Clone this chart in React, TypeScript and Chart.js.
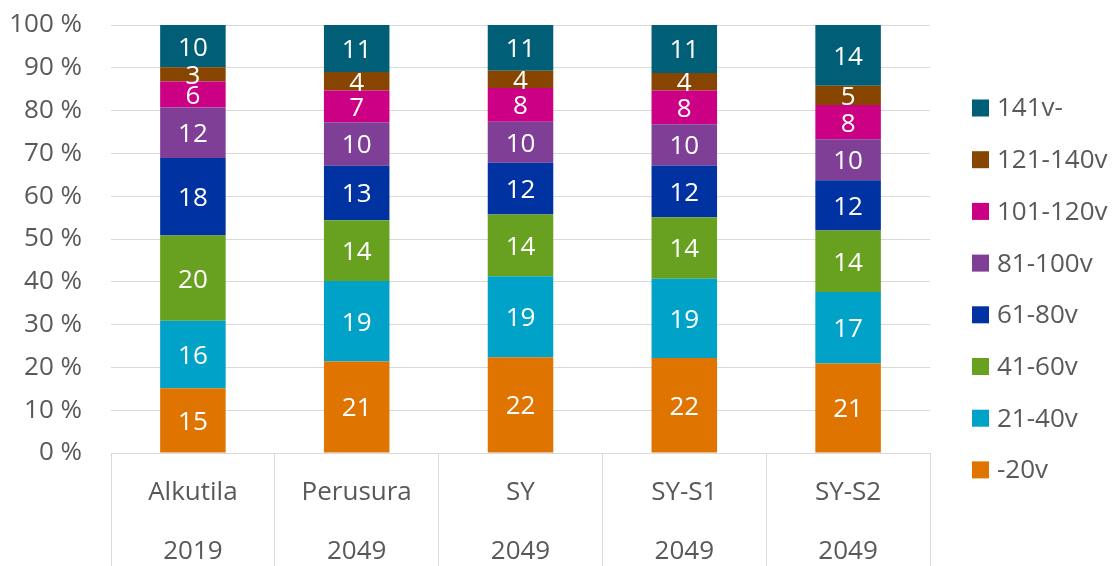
import React, { useEffect, useRef } from "react";
import { Chart, registerables } from "chart.js";

Chart.register(...registerables);

const categories = ["Alkutila", "Perusura", "SY", "SY-S1", "SY-S2"];
const years = ["2019", "2049", "2049", "2049", "2049"];

const seriesNames = ["-20v", "21-40v", "41-60v", "61-80v", "81-100v", "101-120v", "121-140v", "141v-"];
const seriesColors = ["#E07400", "#00A2C8", "#67A11F", "#0033A1", "#7F3F97", "#CC0084", "#884500", "#005F76"];

const age0_20 = [15.1, 21.4, 22.4, 22.2, 20.9];
const age21_40 = [15.8, 18.8, 18.9, 18.5, 16.7];
const age41_60 = [19.9, 14.2, 14.4, 14.4, 14.4];
const age61_80 = [18.1, 12.7, 12.1, 12.1, 11.7];
const age81_100 = [11.8, 10.2, 9.6, 9.6, 9.6];
const age101_120 = [6.1, 7.4, 7.9, 7.9, 8.0];
const age121_140 = [3.3, 4.3, 4.0, 4.1, 4.5];
const age141 = [9.9, 11.0, 10.7, 11.2, 14.2];

const seriesValues = [age0_20, age21_40, age41_60, age61_80, age81_100, age101_120, age121_140, age141];

const yMin = 0;
const yMax = 100;
const yStep = 10;

const FONT = "'Open Sans', 'Noto Sans', sans-serif";
const FONT_SIZE = 26;
const TEXT_COLOR = "#595959";
const GRID_COLOR = "#D9D9D9";

const barLabelsPlugin = {
  id: "barLabels",
  afterDatasetsDraw(chart: any) {
    const ctx = chart.ctx;
    ctx.save();
    ctx.font = `${FONT_SIZE}px ${FONT}`;
    ctx.fillStyle = "#FFFFFF";
    ctx.textAlign = "center";
    ctx.textBaseline = "middle";
    chart.data.datasets.forEach((ds: any, di: number) => {
      const meta = chart.getDatasetMeta(di);
      meta.data.forEach((el: any, i: number) => {
        const v = ds.data[i];
        const p = el.getProps(["x", "y", "base"], true);
        ctx.fillText(String(Math.round(v)), p.x, (p.y + p.base) / 2 + 2);
      });
    });
    ctx.restore();
  },
};

const sideLegendPlugin = {
  id: "sideLegend",
  afterDraw(chart: any) {
    const ctx = chart.ctx;
    const ds = chart.data.datasets;
    const n = ds.length;
    const step = 51.7;
    const firstY = 108;
    const boxSize = 17;
    const boxX = chart.chartArea.right + 42;
    ctx.save();
    ctx.font = `${FONT_SIZE}px ${FONT}`;
    ctx.textAlign = "left";
    ctx.textBaseline = "middle";
    for (let k = 0; k < n; k++) {
      const d = ds[n - 1 - k];
      const y = firstY + k * step;
      ctx.fillStyle = d.backgroundColor;
      ctx.fillRect(boxX, y - boxSize / 2, boxSize, boxSize);
      ctx.fillStyle = TEXT_COLOR;
      ctx.fillText(d.label, boxX + boxSize + 8, y + 1);
    }
    ctx.restore();
  },
};

export default function App() {
  const canvasRef = useRef<HTMLCanvasElement | null>(null);

  useEffect(() => {
    document.body.style.margin = "0";
    let chart: Chart | null = null;
    let cancelled = false;

    const build = () => {
      if (cancelled || !canvasRef.current) return;
      chart = new Chart(canvasRef.current, {
        type: "bar",
        data: {
          labels: categories.map((c, i) => [c, years[i]]),
          datasets: seriesNames.map((name, i) => ({
            label: name,
            data: seriesValues[i],
            backgroundColor: seriesColors[i],
            borderWidth: 0,
            barPercentage: 0.4,
            categoryPercentage: 1,
          })),
        },
        options: {
          animation: false,
          responsive: true,
          maintainAspectRatio: false,
          layout: { padding: { top: 25, right: 184, left: 0, bottom: 0 } },
          plugins: {
            legend: { display: false },
            tooltip: { enabled: false },
          },
          scales: {
            x: {
              stacked: true,
              afterFit: (scale: any) => {
                scale.height = 113;
              },
              grid: {
                display: true,
                drawOnChartArea: false,
                drawTicks: true,
                tickLength: 113,
                offset: true,
                color: GRID_COLOR,
                lineWidth: 1,
              },
              border: { display: true, color: GRID_COLOR },
              ticks: {
                autoSkip: false,
                maxRotation: 0,
                minRotation: 0,
                padding: -102.5,
                color: TEXT_COLOR,
                font: { family: FONT, size: FONT_SIZE, lineHeight: 59 / FONT_SIZE },
              },
            },
            y: {
              stacked: true,
              min: yMin,
              max: yMax,
              afterFit: (scale: any) => {
                scale.width = 111;
              },
              grid: {
                color: GRID_COLOR,
                drawTicks: true,
                tickLength: 29,
                tickColor: "rgba(0,0,0,0)",
                lineWidth: 1,
              },
              border: { display: false },
              ticks: {
                stepSize: yStep,
                padding: 0,
                color: TEXT_COLOR,
                font: { family: FONT, size: FONT_SIZE },
                callback: (v: any) => `${v} %`,
              },
            },
          },
        },
        plugins: [barLabelsPlugin, sideLegendPlugin],
      });
    };

    const fontsReady = (document as any).fonts
      ? Promise.all([(document as any).fonts.load(`${FONT_SIZE}px 'Open Sans'`)]).catch(() => null)
      : Promise.resolve(null);
    fontsReady.then(build);

    return () => {
      cancelled = true;
      if (chart) chart.destroy();
    };
  }, []);

  return (
    <div style={{ position: "absolute", left: 0, top: 0, width: 1114, height: 566 }}>
      <canvas ref={canvasRef} />
    </div>
  );
}
